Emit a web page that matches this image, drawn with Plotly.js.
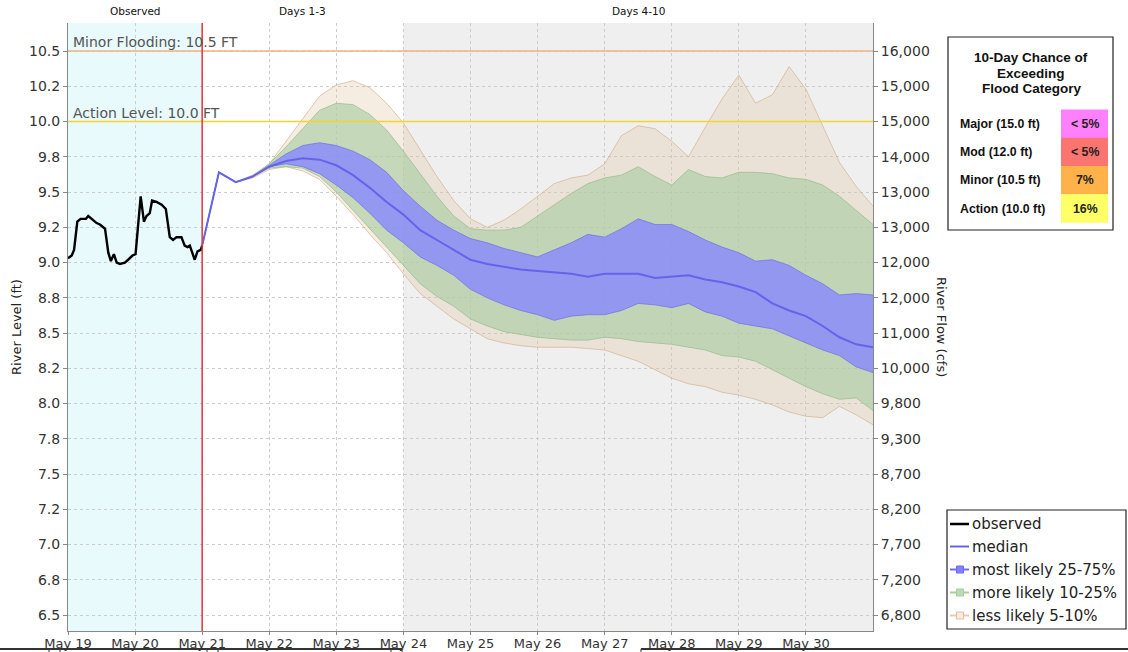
<!DOCTYPE html>
<html><head><meta charset="utf-8">
<script src="https://cdn.plot.ly/plotly-3.0.1.min.js"></script>
<style>html,body{margin:0;padding:0;background:#fff;}#chart{width:1128px;height:652px;}</style>
</head><body><div id="chart"></div>
<script>
// ---------------- data ----------------
const obsTime = ["2024-05-19 00:00","2024-05-19 01:20","2024-05-19 02:10","2024-05-19 03:20","2024-05-19 04:30","2024-05-19 06:25","2024-05-19 07:15","2024-05-19 08:30","2024-05-19 10:15","2024-05-19 11:25","2024-05-19 13:15","2024-05-19 14:25","2024-05-19 15:20","2024-05-19 16:25","2024-05-19 17:25","2024-05-19 18:35","2024-05-19 20:20","2024-05-19 21:30","2024-05-19 23:05","2024-05-20 00:10","2024-05-20 01:05","2024-05-20 02:00","2024-05-20 03:10","2024-05-20 04:05","2024-05-20 05:15","2024-05-20 06:05","2024-05-20 07:40","2024-05-20 09:30","2024-05-20 11:00","2024-05-20 12:25","2024-05-20 13:35","2024-05-20 14:50","2024-05-20 16:35","2024-05-20 17:45","2024-05-20 18:45","2024-05-20 19:35","2024-05-20 21:20","2024-05-20 22:20","2024-05-20 23:30","2024-05-21 00:00"];
const obsLevel = [9.03,9.05,9.09,9.29,9.31,9.31,9.33,9.31,9.28,9.27,9.24,9.07,9.01,9.06,9.00,8.99,9.00,9.02,9.05,9.06,9.25,9.47,9.29,9.33,9.35,9.44,9.43,9.41,9.38,9.18,9.16,9.18,9.18,9.12,9.11,9.12,9.02,9.08,9.09,9.12];

const fcstTime = ["2024-05-21 00:00","2024-05-21 06:00","2024-05-21 12:00","2024-05-21 18:00","2024-05-22 00:00","2024-05-22 06:00","2024-05-22 12:00","2024-05-22 18:00","2024-05-23 00:00","2024-05-23 06:00","2024-05-23 12:00","2024-05-23 18:00","2024-05-24 00:00","2024-05-24 06:00","2024-05-24 12:00","2024-05-24 18:00","2024-05-25 00:00","2024-05-25 06:00","2024-05-25 12:00","2024-05-25 18:00","2024-05-26 00:00","2024-05-26 06:00","2024-05-26 12:00","2024-05-26 18:00","2024-05-27 00:00","2024-05-27 06:00","2024-05-27 12:00","2024-05-27 18:00","2024-05-28 00:00","2024-05-28 06:00","2024-05-28 12:00","2024-05-28 18:00","2024-05-29 00:00","2024-05-29 06:00","2024-05-29 12:00","2024-05-29 18:00","2024-05-30 00:00","2024-05-30 06:00","2024-05-30 12:00","2024-05-30 18:00","2024-05-31 00:00"];
const p50 = [9.12,9.64,9.57,9.61,9.68,9.72,9.74,9.73,9.69,9.62,9.53,9.43,9.34,9.23,9.16,9.09,9.02,8.99,8.97,8.95,8.94,8.93,8.92,8.90,8.92,8.92,8.92,8.89,8.90,8.91,8.88,8.86,8.83,8.79,8.71,8.66,8.62,8.55,8.47,8.42,8.40];
const p75 = [9.12,9.64,9.57,9.61,9.69,9.77,9.83,9.85,9.83,9.79,9.73,9.64,9.51,9.40,9.30,9.23,9.17,9.14,9.10,9.07,9.04,9.09,9.14,9.20,9.18,9.24,9.31,9.27,9.27,9.22,9.16,9.11,9.07,9.01,9.02,8.98,8.91,8.85,8.77,8.78,8.77];
const p25 = [9.12,9.64,9.57,9.61,9.68,9.70,9.68,9.63,9.55,9.46,9.35,9.23,9.14,9.04,8.98,8.91,8.81,8.75,8.70,8.66,8.63,8.59,8.62,8.63,8.63,8.66,8.71,8.70,8.68,8.71,8.65,8.62,8.57,8.55,8.53,8.48,8.43,8.38,8.34,8.26,8.22];
const p90 = [9.12,9.64,9.57,9.61,9.70,9.82,9.95,10.08,10.13,10.12,10.05,9.94,9.79,9.63,9.47,9.33,9.24,9.23,9.23,9.25,9.33,9.41,9.49,9.56,9.60,9.62,9.68,9.61,9.55,9.66,9.61,9.60,9.64,9.64,9.63,9.60,9.59,9.55,9.47,9.37,9.27];
const p10 = [9.12,9.64,9.57,9.61,9.67,9.68,9.67,9.61,9.50,9.37,9.24,9.11,8.98,8.85,8.76,8.69,8.60,8.55,8.51,8.49,8.47,8.46,8.45,8.45,8.47,8.46,8.44,8.43,8.42,8.40,8.38,8.34,8.33,8.30,8.24,8.18,8.12,8.07,8.03,8.04,7.95];
const p95 = [9.12,9.64,9.57,9.62,9.70,9.86,10.02,10.18,10.26,10.29,10.24,10.13,9.99,9.80,9.61,9.44,9.31,9.25,9.30,9.38,9.47,9.56,9.60,9.62,9.70,9.90,9.97,9.95,9.86,9.75,9.96,10.16,10.33,10.13,10.19,10.39,10.23,9.97,9.71,9.54,9.40];
const p05 = [9.12,9.64,9.57,9.60,9.66,9.68,9.65,9.59,9.47,9.34,9.20,9.07,8.92,8.78,8.69,8.60,8.53,8.46,8.43,8.41,8.40,8.40,8.40,8.39,8.38,8.34,8.30,8.24,8.18,8.14,8.12,8.08,8.06,8.03,7.99,7.94,7.91,7.90,7.98,7.92,7.85];

const levelTicks = [10.5,10.25,10.0,9.75,9.5,9.25,9.0,8.75,8.5,8.25,8.0,7.75,7.5,7.25,7.0,6.75,6.5];
const levelTickText = ["10.5","10.2","10.0","9.8","9.5","9.2","9.0","8.8","8.5","8.2","8.0","7.8","7.5","7.2","7.0","6.8","6.5"];
const flowTickText = ["16,000","15,000","15,000","14,000","13,000","13,000","12,000","12,000","11,000","10,000","9,800","9,300","8,700","8,200","7,700","7,200","6,800"];
const dayTicks = ["2024-05-19","2024-05-20","2024-05-21","2024-05-22","2024-05-23","2024-05-24","2024-05-25","2024-05-26","2024-05-27","2024-05-28","2024-05-29","2024-05-30"];

const periodLabels = ["Observed","Days 1-3","Days 4-10"];
const periodBounds = ["2024-05-19 00:00","2024-05-21 00:00","2024-05-24 00:00","2024-05-31 00:00"];

const minorStage = 10.5, actionStage = 10.0;
const thresholdLabels = ["Minor Flooding: 10.5 FT","Action Level: 10.0 FT"];

const tableTitle = ["10-Day Chance of","Exceeding","Flood Category"];
const floodCats = ["Major (15.0 ft)","Mod (12.0 ft)","Minor (10.5 ft)","Action (10.0 ft)"];
const floodChance = ["< 5%","< 5%","7%","16%"];

const legendNames = ["observed","median","most likely 25-75%","more likely 10-25%","less likely 5-10%"];

// ---------------- styles ----------------
const FONT = "DejaVu Sans";
const TFONT = "Liberation Sans";
const catColors = ["#ff80ff","#fa7470","#ffb24a","#ffff66"];
const tan = {fill:"rgba(225,195,160,0.30)", line:"rgba(210,178,145,0.7)"};
const green = {fill:"rgba(170,206,164,0.65)", line:"rgba(150,185,140,0.7)"};
const blue = {fill:"rgba(135,135,255,0.8)", line:"rgba(110,110,230,0.7)"};
const medianColor = "rgb(100,100,232)";

// pixel -> paper helpers (plot area 68..873 x 23..631)
const L=68, R=873, T=23, B=631;
const X = px => (px - L) / (R - L);
const Y = py => (B - py) / (B - T);
const toD = s => new Date(s.replace(" ","T")+":00Z").getTime();
const fromD = ms => new Date(ms).toISOString().replace("T"," ").slice(0,19);

// ---------------- traces ----------------
function band(lo, hi, c){
  return [
    {x:fcstTime, y:lo, type:"scatter", mode:"lines", line:{color:c.line, width:1}, hoverinfo:"skip", showlegend:false},
    {x:fcstTime, y:hi, type:"scatter", mode:"lines", fill:"tonexty", fillcolor:c.fill, line:{color:c.line, width:1}, hoverinfo:"skip", showlegend:false}
  ];
}
const traces = [
  ...band(p05, p95, tan),
  ...band(p10, p90, green),
  ...band(p25, p75, blue),
  {x:fcstTime, y:p50, type:"scatter", mode:"lines", line:{color:medianColor, width:2}, name:legendNames[1], showlegend:false},
  {x:obsTime, y:obsLevel, type:"scatter", mode:"lines", line:{color:"#000", width:2.4}, name:legendNames[0], showlegend:false},
  {x:fcstTime, y:p50, yaxis:"y2", type:"scatter", mode:"lines", line:{width:0}, opacity:0, hoverinfo:"skip", showlegend:false}
];

// ---------------- shapes & annotations ----------------
const shapes = [
  {type:"rect", xref:"x", yref:"paper", x0:periodBounds[0], x1:periodBounds[1], y0:0, y1:1, fillcolor:"#e8fafc", line:{width:0}, layer:"below"},
  {type:"rect", xref:"x", yref:"paper", x0:periodBounds[2], x1:periodBounds[3], y0:0, y1:1, fillcolor:"#efefef", line:{width:0}, layer:"below"},
  {type:"line", xref:"paper", yref:"y", x0:0, x1:1, y0:minorStage, y1:minorStage, line:{color:"#f2b283", width:1.5}, layer:"above"},
  {type:"line", xref:"paper", yref:"y", x0:0, x1:1, y0:actionStage, y1:actionStage, line:{color:"#f7d426", width:1.5}, layer:"above"},
  {type:"line", xref:"x", yref:"paper", x0:periodBounds[1], x1:periodBounds[1], y0:0, y1:1, line:{color:"#e0383a", width:1.5}, layer:"above"}
];
const annotations = [];
const af = (size, color, family) => ({family: family||FONT, size, color});

// period header labels
for (let i=0;i<periodLabels.length;i++){
  const mid = fromD((toD(periodBounds[i]) + toD(periodBounds[i+1]))/2);
  annotations.push({x:mid, xref:"x", y:Y(11), yref:"paper", text:periodLabels[i], showarrow:false, xanchor:"center", yanchor:"middle", font:af(10.5,"#111")});
}
// threshold labels
annotations.push({x:X(71), xref:"paper", y:minorStage, yref:"y", text:thresholdLabels[0], showarrow:false, xanchor:"left", yanchor:"bottom", yshift:-1, font:af(14,"#555")});
annotations.push({x:X(71), xref:"paper", y:actionStage, yref:"y", text:thresholdLabels[1], showarrow:false, xanchor:"left", yanchor:"bottom", yshift:-1, font:af(14,"#555")});
// right axis title
annotations.push({x:X(942), xref:"paper", y:Y(327), yref:"paper", text:"River Flow (cfs)", textangle:90, showarrow:false, xanchor:"center", yanchor:"middle", font:af(13,"#222")});

// flood category table
shapes.push({type:"rect", xref:"paper", yref:"paper", x0:X(948), x1:X(1113), y0:Y(230), y1:Y(37), fillcolor:"#fff", line:{color:"#222", width:1.2}, layer:"above"});
const titleY = [58, 73, 88];
tableTitle.forEach((t,i)=>annotations.push({x:X(1031), xref:"paper", y:Y(titleY[i]), yref:"paper", text:"<b>"+t+"</b>", showarrow:false, xanchor:"center", yanchor:"middle", font:af(13.5,"#111",TFONT)}));
const rowTop = [109.5, 137.8, 166, 194.3], rowH = 28.5;
floodCats.forEach((c,i)=>{
  shapes.push({type:"rect", xref:"paper", yref:"paper", x0:X(1061), x1:X(1108), y0:Y(rowTop[i]+rowH), y1:Y(rowTop[i]), fillcolor:catColors[i], line:{width:0}, layer:"above"});
  annotations.push({x:X(958), xref:"paper", y:Y(rowTop[i]+rowH/2), yref:"paper", text:"<b>"+c+"</b>", showarrow:false, xanchor:"left", yanchor:"middle", font:af(12.3,"#111",TFONT)});
  annotations.push({x:X(1085), xref:"paper", y:Y(rowTop[i]+rowH/2), yref:"paper", text:"<b>"+floodChance[i]+"</b>", showarrow:false, xanchor:"center", yanchor:"middle", font:af(12.3,"#222",TFONT)});
});

// custom legend
shapes.push({type:"rect", xref:"paper", yref:"paper", x0:X(947), x1:X(1126), y0:Y(629), y1:Y(510), fillcolor:"#fff", line:{color:"#222", width:1.2}, layer:"above"});
const legY = [524, 546.5, 569.5, 592.5, 615.5];
const legLine = ["#000", medianColor, "#6c6cf2", "#a9cda0", "#e6ccb4"];
const legMarkFill = [null, null, "#8080ff", "#bcdcb4", "#f6ebe0"];
const legMarkLine = [null, null, "#6c6cf2", "#a9cda0", "#ddbfa5"];
legendNames.forEach((n,i)=>{
  shapes.push({type:"line", xref:"paper", yref:"paper", x0:X(950), x1:X(969), y0:Y(legY[i]), y1:Y(legY[i]), line:{color:legLine[i], width:i===0?2.5:2}, layer:"above"});
  if (legMarkFill[i]) shapes.push({type:"rect", xref:"paper", yref:"paper", x0:X(956.5), x1:X(963.5), y0:Y(legY[i]+3.5), y1:Y(legY[i]-3.5), fillcolor:legMarkFill[i], line:{color:legMarkLine[i], width:1}, layer:"above"});
  annotations.push({x:X(970), xref:"paper", y:Y(legY[i]), yref:"paper", text:n, showarrow:false, xanchor:"left", yanchor:"middle", font:af(15,"#222")});
});

// bottom strip (page frame under the chart)
shapes.push({type:"line", xref:"paper", yref:"paper", x0:X(0), x1:X(402), y0:Y(649), y1:Y(649), line:{color:"#333", width:2}, layer:"above"});
shapes.push({type:"line", xref:"paper", yref:"paper", x0:X(641), x1:X(1128), y0:Y(649), y1:Y(649), line:{color:"#333", width:2}, layer:"above"});
[49,60,207,218,391,402,641].forEach(px=>shapes.push({type:"line", xref:"paper", yref:"paper", x0:X(px), x1:X(px), y0:Y(653), y1:Y(649), line:{color:"#333", width:1}, layer:"above"}));

// ---------------- layout ----------------
const yRange = [6.387, 10.699];
const layout = {
  width:1128, height:652,
  margin:{l:L, r:1128-R, t:T, b:652-B, pad:0},
  paper_bgcolor:"#fff", plot_bgcolor:"#fff",
  font:{family:FONT, size:14, color:"#333"},
  showlegend:false,
  xaxis:{type:"date", range:[periodBounds[0], periodBounds[3]], tickvals:dayTicks, tickformat:"%b %d",
         ticks:"outside", ticklen:3, tickcolor:"#888", showline:true, linecolor:"#888", linewidth:1,
         ticklabelstandoff:-3,
         showgrid:true, gridcolor:"#cccccc", griddash:"dot", gridwidth:1, zeroline:false,
         tickfont:{family:FONT, size:13, color:"#333"}},
  yaxis:{range:yRange, tickvals:levelTicks, ticktext:levelTickText, ticks:"outside", ticklen:4, tickcolor:"#888",
         showline:true, linecolor:"#888", linewidth:1, showgrid:true, gridcolor:"#cccccc", griddash:"dot", zeroline:false,
         tickfont:{family:FONT, size:14, color:"#333"},
         title:{text:"River Level (ft)", font:{family:FONT, size:13, color:"#222"}, standoff:4}},
  yaxis2:{overlaying:"y", side:"right", range:yRange, tickvals:levelTicks, ticktext:flowTickText, ticks:"outside", ticklen:4, tickcolor:"#888",
          showline:true, linecolor:"#888", linewidth:1, showgrid:false, zeroline:false,
          tickfont:{family:FONT, size:14, color:"#333"}},
  shapes, annotations
};
Plotly.newPlot("chart", traces, layout, {staticPlot:true, displayModeBar:false});
</script></body></html>
